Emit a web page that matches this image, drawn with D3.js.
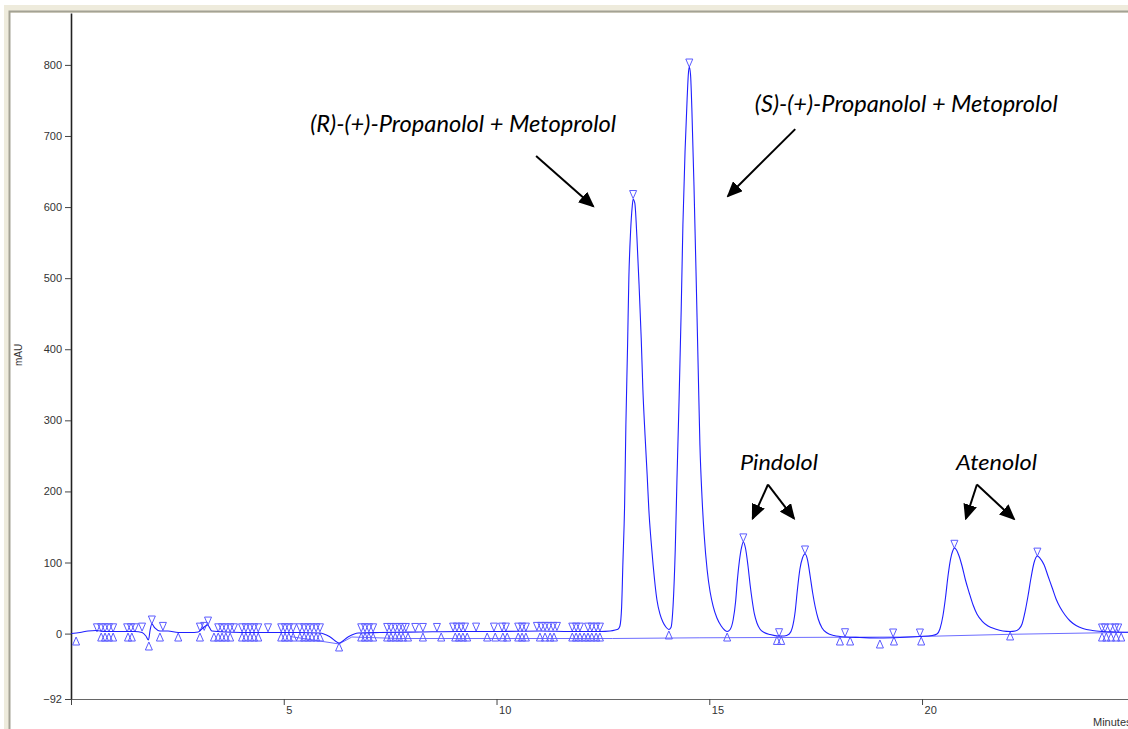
<!DOCTYPE html>
<html>
<head>
<meta charset="utf-8">
<script src="https://cdn.jsdelivr.net/npm/d3@7"></script>
<style>
body { margin: 0; background: #fff; }
svg { display: block; }
.tick text { font-family: "Liberation Sans", Arial, sans-serif; font-size: 11px; fill: #333; }
.note { font-family: Lato, "Open Sans", sans-serif; font-style: italic; fill: #000; }
</style>
</head>
<body>
<svg width="1128" height="729"></svg>
<script>
// axis ticks
var yTicks = [-92, 0, 100, 200, 300, 400, 500, 600, 700, 800];
var xTicks = [0, 5, 10, 15, 20];

// detector trace [minutes, mAU]
var trace = [
  [0.01, 0.1], [0.21, 1.5], [0.40, 3.7], [0.59, 4.4], [0.80, 3.0], [1.15, 3.0], [1.50, 3.0],
  [1.67, 1.5], [1.76, -3.4], [1.82, -9.0], [1.86, 5.1], [1.90, 13.5], [1.97, 7.9], [2.09, 3.7],
  [2.28, 3.7], [2.52, 1.5], [2.80, 1.5], [2.99, 2.3], [3.10, 7.9], [3.21, 12.1], [3.31, 3.7],
  [3.62, 2.3], [4.44, 1.5], [5.38, 1.5], [5.85, 0.8], [6.09, -4.8], [6.30, -13.2], [6.51, -4.8],
  [6.75, 0.8], [7.26, 1.5], [8.20, 2.3], [9.14, 3.0], [10.08, 3.0], [11.02, 3.7], [11.73, 3.0],
  [12.43, 3.0], [12.67, 3.7], [12.79, 5.1],
  // peak 1
  [12.86, 6.5], [12.90, 10.7], [12.94, 37.4], [12.97, 99.3], [13.01, 180.9], [13.04, 293.4],
  [13.08, 405.9], [13.11, 500.2], [13.15, 564.9], [13.19, 601.4], [13.21, 611], [13.25, 605.6],
  [13.30, 556.5], [13.35, 490.3], [13.40, 415.8], [13.44, 342.6], [13.49, 279.4], [13.54, 223.1],
  [13.58, 173.9], [13.63, 131.7], [13.68, 96.5], [13.77, 47.3], [13.84, 27.6], [13.91, 16.3],
  [13.98, 9.3], [14.05, 5.8],
  // peak 2
  [14.10, 8.6], [14.15, 40.2], [14.20, 117.6], [14.24, 216.1], [14.29, 328.6], [14.34, 455.2],
  [14.38, 574.8], [14.43, 677.5], [14.48, 753.4], [14.51, 788.6], [14.53, 797], [14.56, 785.8],
  [14.59, 739.4], [14.64, 631.0], [14.69, 504.4], [14.74, 370.8], [14.78, 265.3], [14.83, 190.7],
  [14.88, 138.7], [14.95, 89.5], [15.02, 58.5], [15.09, 38.8], [15.18, 21.9], [15.28, 10.7],
  [15.37, 4.4], [15.42, 3.0],
  // peak 3
  [15.49, 5.8], [15.56, 19.1], [15.62, 45.9], [15.66, 75.4], [15.71, 103.5], [15.76, 121.8],
  [15.80, 128.9], [15.85, 120.4], [15.91, 95.1], [15.96, 68.4], [16.01, 45.9], [16.06, 27.6],
  [16.12, 14.9], [16.19, 6.5], [16.29, 1.6], [16.43, -1.3], [16.62, -3.4],
  // peak 4
  [16.76, -3.4], [16.88, -0.6], [16.95, 7.9], [17.02, 31.8], [17.07, 61.3], [17.13, 90.9],
  [17.19, 106.3], [17.25, 112.0], [17.31, 103.5], [17.37, 81.0], [17.43, 57.1], [17.49, 37.4],
  [17.56, 20.5], [17.65, 7.9], [17.77, 0.8], [17.93, -2.7], [18.21, -4.8], [18.54, -5.5],
  [19.01, -6.2], [19.48, -5.5], [19.95, -4.1], [20.24, -2.7],
  // peak 5
  [20.35, -0.6], [20.42, 6.5], [20.49, 24.8], [20.55, 50.1], [20.61, 81.0], [20.67, 104.9],
  [20.72, 116.2], [20.76, 120.4], [20.81, 117.6], [20.87, 109.2], [20.94, 95.1], [21.02, 75.4],
  [21.11, 57.1], [21.20, 40.2], [21.29, 27.6], [21.41, 17.7], [21.55, 10.7], [21.72, 6.5],
  [21.90, 3.7], [22.07, 3.0],
  // peak 6
  [22.19, 3.7], [22.28, 6.5], [22.35, 13.5], [22.42, 30.4], [22.49, 52.9], [22.56, 78.2],
  [22.63, 99.3], [22.71, 109.2], [22.77, 106.3], [22.87, 96.5], [22.96, 81.0], [23.06, 64.1],
  [23.15, 48.7], [23.24, 37.4], [23.36, 26.2], [23.48, 17.7], [23.62, 11.4], [23.78, 7.2],
  [24.00, 4.4], [24.23, 3.0], [24.54, 2.3], [24.89, 1.8]
];

// integration baselines
var baseNoise = [[5.15, -4.1], [6.30, -14.6], [6.60, -4.8], [7.73, -6.9], [12.72, -6.9]];
var basePeaks = [[12.72, -6.9], [14.78, -5.9], [19.48, -4.8], [22.07, -1.0], [24.89, 1.8]];

// peak-top markers (down triangles)
var apexMarks = [
  [0.61, 2.5], [0.71, 2.5], [0.80, 2.5], [0.89, 2.5], [0.99, 2.5], [1.32, 2.5], [1.41, 2.5],
  [1.50, 2.5], [1.67, 3.5], [1.90, 13.5], [2.16, 4.5], [3.03, 3.5], [3.13, 4.5], [3.22, 12],
  [3.46, 2.5], [3.55, 2.5], [3.64, 2.5], [3.74, 2.5], [3.83, 2.5], [4.02, 2.5], [4.11, 2.5],
  [4.21, 2.5], [4.30, 2.5], [4.40, 2.5], [4.63, 2.5], [4.94, 2.5], [5.03, 2.5], [5.12, 2.5],
  [5.22, 2.5], [5.38, 2.5], [5.48, 2.5], [5.57, 2.5], [5.66, 2.5], [5.76, 2.5], [5.85, 2.5],
  [6.82, 2.5], [6.91, 2.5], [7.00, 2.5], [7.10, 2.5], [7.43, 3], [7.52, 3], [7.62, 3], [7.71, 3],
  [7.80, 3], [7.87, 3], [8.09, 3], [8.27, 3], [8.60, 3], [8.98, 3.5], [9.07, 3.5], [9.17, 3.5],
  [9.26, 3.5], [9.52, 3.5], [9.94, 3.5], [10.13, 3.5], [10.22, 3.5], [10.51, 3.5], [10.60, 3.5],
  [10.69, 3.5], [10.95, 4.5], [11.05, 4.5], [11.14, 4.5], [11.23, 4.5], [11.33, 4.5], [11.42, 4.5],
  [11.78, 3.5], [11.87, 3.5], [11.96, 3.5], [12.15, 3.5], [12.24, 3.5], [12.34, 3.5], [12.43, 3.5],
  [13.21, 612], [14.53, 797], [15.80, 129], [17.25, 112], [20.76, 120], [22.71, 109],
  [16.64, -4.4], [18.19, -4.4], [19.32, -4.8], [19.95, -4.8],
  [24.23, 2.3], [24.30, 2.3], [24.42, 2.3], [24.54, 2.3], [24.61, 2.3]
];

// peak start / end markers (up triangles)
var boundMarks = [
  [0.12, -4.8], [0.71, 0.8], [0.80, 0.8], [0.89, 0.8], [0.99, 0.8], [1.34, 0.8], [1.43, 0.8],
  [1.83, -11.8], [2.09, 0.8], [2.52, 0.8], [3.03, 0.8], [3.36, 0.8], [3.46, 0.8], [3.55, 0.8],
  [3.64, 0.8], [3.74, 0.8], [4.02, 0.8], [4.11, 0.8], [4.21, 0.8], [4.30, 0.8], [4.40, 0.8],
  [4.94, 0.8], [5.03, 0.8], [5.12, 0.8], [5.22, 0.8], [5.38, 0.8], [5.48, 0.8], [5.57, 0.8],
  [5.66, 0.8], [5.76, 0.8], [5.85, 0.8], [6.30, -13.2], [6.82, 0.8], [6.91, 0.8], [7.00, 0.8],
  [7.10, 0.8], [7.43, 0.8], [7.52, 0.8], [7.62, 0.8], [7.71, 0.8], [7.80, 0.8], [7.92, 0.8],
  [8.27, 0.8], [8.70, 0.8], [9.03, 0.8], [9.12, 0.8], [9.21, 0.8], [9.31, 0.8], [9.78, 0.8],
  [9.97, 0.8], [10.15, 0.8], [10.25, 0.8], [10.51, 0.8], [10.60, 0.8], [10.69, 0.8], [11.02, 0.8],
  [11.14, 0.8], [11.26, 0.8], [11.35, 0.8], [11.78, 0.8], [11.87, 0.8], [11.96, 0.8], [12.06, 0.8],
  [12.15, 0.8], [12.24, 0.8], [12.34, 0.8], [12.43, 0.8],
  [14.05, 3.7], [15.42, 0.8], [16.59, -4.0], [16.69, -4.0], [18.07, -4.8], [18.31, -4.8],
  [19.01, -9.0], [19.34, -4.8], [19.98, -4.8], [22.07, 2.3],
  [24.23, 0.8], [24.33, 0.8], [24.44, 0.8], [24.56, 0.8], [24.68, 0.8]
];

// annotations
var noteLabels = ["(R)-(+)-Propanolol + Metoprolol", "(S)-(+)-Propanolol + Metoprolol", "Pindolol", "Atenolol"];
var noteAt = [[5.62, 705.6], [16.07, 733.7], [15.72, 230.1], [20.80, 230.1]];
var noteWidth = [306, 303, 78, 81];
var noteSize = [23, 23, 22, 22];
var arrows = [
  [10.93, 671.8, 12.27, 601.2],
  [17.02, 709.7, 15.44, 615.5],
  [16.38, 209.7, 16.02, 161.9],
  [16.38, 209.7, 16.99, 161.9],
  [21.29, 209.7, 21.03, 161.9],
  [21.29, 209.7, 22.16, 161.2]
];

var svg = d3.select("svg"),
    width = +svg.attr("width"),
    height = +svg.attr("height");

var plotLeft = 71, plotTop = 13, plotBottom = 699;

var x = d3.scaleLinear().domain([0, 24.84]).range([plotLeft, width]);
var y = d3.scaleLinear().domain([-92, 873]).range([plotBottom, plotTop]);

// window frame
svg.append("rect").attr("x", 4).attr("y", 5).attr("width", width).attr("height", 8).attr("fill", "#eeebdc");
svg.append("rect").attr("x", 4).attr("y", 5).attr("width", 6).attr("height", height).attr("fill", "#eeebdc");
svg.append("path").attr("d", "M9.5," + height + "V11.5H" + width)
    .attr("fill", "none").attr("stroke", "#a3a294").attr("stroke-width", 2);

var defs = svg.append("defs");
defs.append("clipPath").attr("id", "plot")
  .append("rect").attr("x", plotLeft).attr("y", plotTop)
    .attr("width", width - plotLeft).attr("height", plotBottom - plotTop);

defs.append("marker")
    .attr("id", "head")
    .attr("markerUnits", "userSpaceOnUse")
    .attr("viewBox", "0 0 16 14")
    .attr("refX", 14).attr("refY", 7)
    .attr("markerWidth", 16).attr("markerHeight", 14)
    .attr("orient", "auto")
  .append("path").attr("d", "M0,0L16,7L0,14Z").attr("fill", "#000");

// axes
var yAxis = svg.append("g")
    .attr("transform", "translate(" + plotLeft + ",0)")
    .call(d3.axisLeft(y).tickValues(yTicks).tickSize(6).tickSizeOuter(0).tickPadding(3));
yAxis.select(".domain").attr("stroke", "#222").attr("stroke-width", 1.6);
yAxis.selectAll(".tick line").attr("stroke", "#444");

var xAxis = svg.append("g")
    .attr("transform", "translate(0," + plotBottom + ")")
    .call(d3.axisBottom(x).tickValues(xTicks).tickSize(6).tickSizeOuter(0)
      .tickFormat(function(d) { return d === 0 ? "" : d; }));
xAxis.select(".domain").attr("stroke", "#666");
xAxis.selectAll(".tick line").attr("stroke", "#444");
xAxis.selectAll(".tick text").attr("text-anchor", "start").attr("x", 2).attr("y", 7);

svg.append("text")
    .attr("transform", "translate(22,355) rotate(-90)")
    .attr("text-anchor", "middle")
    .style("font-family", "Liberation Sans, Arial, sans-serif")
    .style("font-size", "10px").attr("fill", "#333")
    .text("mAU");

svg.append("text")
    .attr("x", 1093).attr("y", 725.5)
    .style("font-family", "Liberation Sans, Arial, sans-serif")
    .style("font-size", "11px").attr("fill", "#333")
    .text("Minutes");

var plot = svg.append("g").attr("clip-path", "url(#plot)");

var line = d3.line()
    .x(function(d) { return x(d[0]); })
    .y(function(d) { return y(d[1]); });

plot.selectAll("path.base")
    .data([baseNoise, basePeaks])
    .enter().append("path")
      .attr("class", "base")
      .attr("d", line)
      .attr("fill", "none")
      .attr("stroke", "#6d6dff")
      .attr("stroke-width", 1);

plot.selectAll("path.down")
    .data(apexMarks)
    .enter().append("path")
      .attr("class", "down")
      .attr("d", function(d) {
        var px = x(d[0]), py = y(d[1]);
        return "M" + (px - 3.5) + "," + (py - 8) + "H" + (px + 3.5) + "L" + px + "," + py + "Z";
      })
      .attr("fill", "none")
      .attr("stroke", "#5a5aff")
      .attr("stroke-width", 1);

plot.selectAll("path.up")
    .data(boundMarks)
    .enter().append("path")
      .attr("class", "up")
      .attr("d", function(d) {
        var px = x(d[0]), py = y(d[1]);
        return "M" + (px - 3.5) + "," + (py + 8) + "H" + (px + 3.5) + "L" + px + "," + py + "Z";
      })
      .attr("fill", "none")
      .attr("stroke", "#5a5aff")
      .attr("stroke-width", 1);

plot.append("path")
    .datum(trace)
    .attr("d", line.curve(d3.curveMonotoneX))
    .attr("fill", "none")
    .attr("stroke", "#1f1fff")
    .attr("stroke-width", 1.1);

// labels and arrows
svg.selectAll("text.note")
    .data(noteLabels)
    .enter().append("text")
      .attr("class", "note")
      .attr("x", function(d, i) { return x(noteAt[i][0]); })
      .attr("y", function(d, i) { return y(noteAt[i][1]); })
      .attr("textLength", function(d, i) { return noteWidth[i]; })
      .attr("lengthAdjust", "spacingAndGlyphs")
      .style("font-size", function(d, i) { return noteSize[i] + "px"; })
      .text(function(d) { return d; });

svg.selectAll("line.arrow")
    .data(arrows)
    .enter().append("line")
      .attr("class", "arrow")
      .attr("x1", function(d) { return x(d[0]); })
      .attr("y1", function(d) { return y(d[1]); })
      .attr("x2", function(d) { return x(d[2]); })
      .attr("y2", function(d) { return y(d[3]); })
      .attr("stroke", "#000")
      .attr("stroke-width", 2)
      .attr("marker-end", "url(#head)");
</script>
</body>
</html>
